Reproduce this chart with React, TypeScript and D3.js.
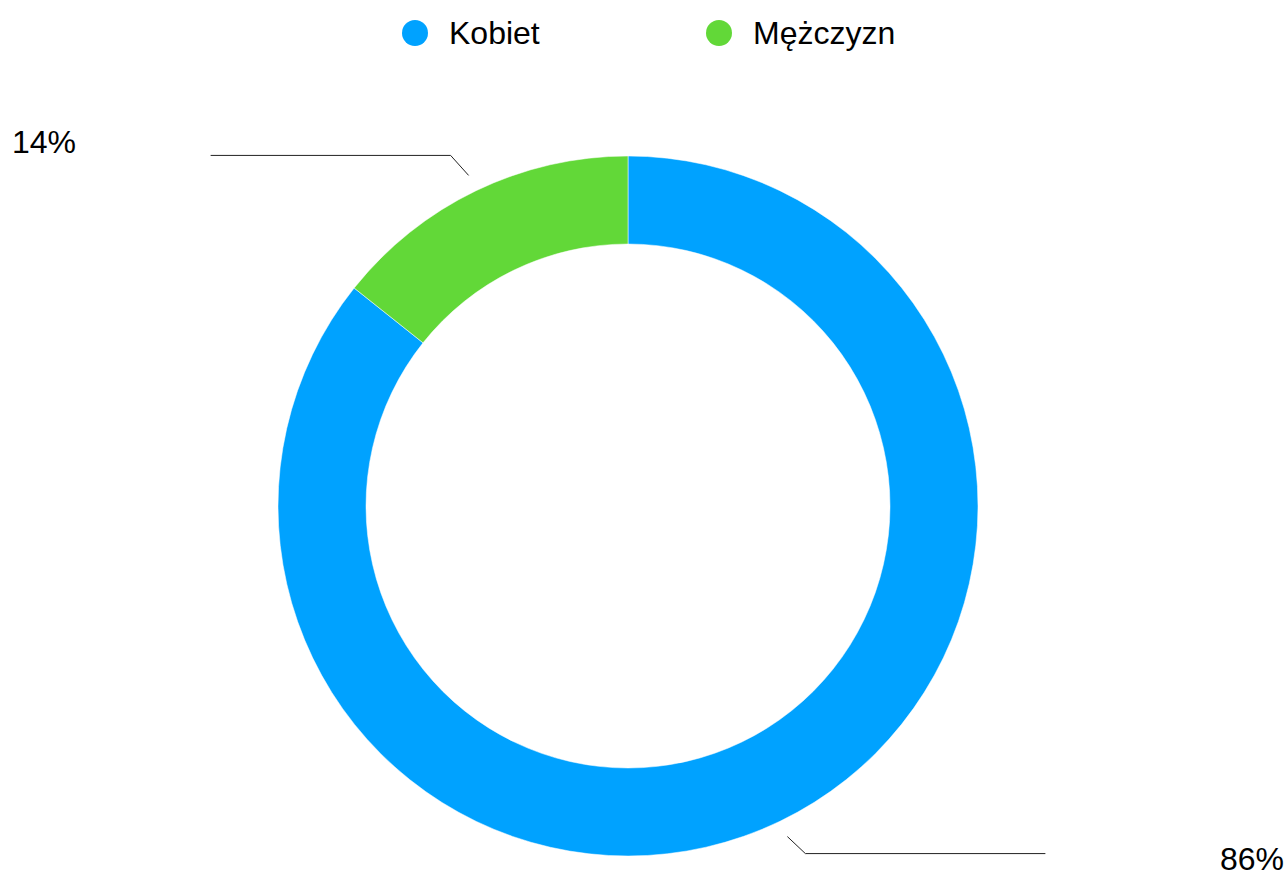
import React, { useEffect, useRef } from 'react';
import * as d3 from 'd3';

const categories = ['Kobiet', 'Mężczyzn'];
const values = [85.7, 14.3];
const valueLabels = ['86%', '14%'];
const colors = ['#00A2FF', '#62D838'];

const App = () => {
    const svgRef = useRef<SVGSVGElement>(null);

    useEffect(() => {
        document.body.style.margin = '0';
        const svg = d3.select(svgRef.current);
        svg.selectAll('*').remove();

        const width = 1288;
        const height = 875;
        const cx = 628;
        const cy = 506;
        const outerR = 350;
        const innerR = 262;
        const font = 'Liberation Sans, Arial, sans-serif';

        const color = d3.scaleOrdinal<string, string>().domain(categories).range(colors);

        // Legend
        const legendX = [415, 719];
        const legend = svg.append('g');
        categories.forEach((c, i) => {
            legend.append('circle')
                .attr('cx', legendX[i])
                .attr('cy', 33)
                .attr('r', 13)
                .attr('fill', color(c));
            legend.append('text')
                .attr('x', legendX[i] + 34)
                .attr('y', 44)
                .attr('font-family', font)
                .attr('font-size', '32px')
                .attr('fill', '#000')
                .text(c);
        });

        const pie = d3.pie<number>().sort(null).value(d => d);
        const arcs = pie(values);
        const arc = d3.arc<d3.PieArcDatum<number>>().innerRadius(innerR).outerRadius(outerR);

        const g = svg.append('g').attr('transform', `translate(${cx},${cy})`);
        g.selectAll('path')
            .data(arcs)
            .enter().append('path')
            .attr('d', arc)
            .attr('fill', (_, i) => color(categories[i]))
            .attr('stroke', '#fff')
            .attr('stroke-width', 0.5);

        // Callout lines
        const lineR = 367;
        arcs.forEach((a, i) => {
            const mid = (a.startAngle + a.endAngle) / 2;
            const x0 = Math.sin(mid) * lineR;
            const y0 = -Math.cos(mid) * lineR;
            const dir = x0 < 0 ? -1 : 1;
            const x1 = x0 + dir * 18;
            const y1 = y0 + (y0 < 0 ? -20 : 17);
            const x2 = x1 + dir * 240;
            g.append('path')
                .attr('d', `M${x0},${y0}L${x1},${y1}L${x2},${y1}`)
                .attr('fill', 'none')
                .attr('stroke', '#222')
                .attr('stroke-width', 1);
            g.append('text')
                .attr('x', dir < 0 ? 12 - cx : 1284 - cx)
                .attr('y', y0 < 0 ? y1 - 2 : y1 + 16)
                .attr('text-anchor', dir < 0 ? 'start' : 'end')
                .attr('font-family', font)
                .attr('font-size', '32px')
                .attr('fill', '#000')
                .text(valueLabels[i]);
        });

        svg.attr('width', width).attr('height', height);
    }, []);

    return <svg ref={svgRef} width={1288} height={875} style={{ display: 'block' }}></svg>;
};

export default App;
